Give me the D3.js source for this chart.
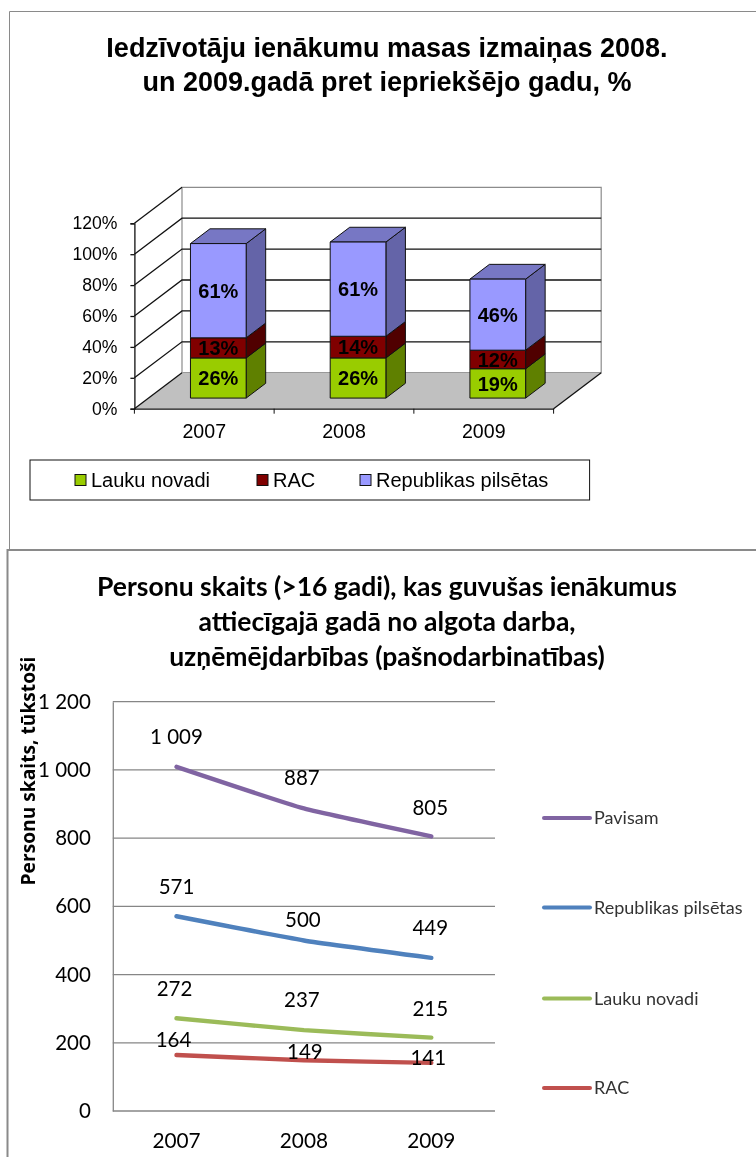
<!DOCTYPE html>
<html><head><meta charset="utf-8">
<script src="https://cdn.jsdelivr.net/npm/d3@7/dist/d3.min.js"></script>
<style>html,body{margin:0;padding:0;background:#fff}svg{display:block;filter:blur(0.35px)}</style>
</head><body>
<svg id="c" width="756" height="1157"></svg>
<script>
const years = ["2007", "2008", "2009"];
const laukuShare = [26, 26, 19];
const racShare = [13, 14, 12];
const pilsetasShare = [61, 61, 46];
const shareTicks = [0, 20, 40, 60, 80, 100, 120];
const shareSeries = ["Lauku novadi", "RAC", "Republikas pilsētas"];

const personsTotal = [1009, 887, 805];
const personsCities = [571, 500, 449];
const personsRural = [272, 237, 215];
const personsRac = [164, 149, 141];
const personTicks = [0, 200, 400, 600, 800, 1000, 1200];
const personSeries = ["Pavisam", "Republikas pilsētas", "Lauku novadi", "RAC"];

const svg = d3.select("#c");
const ARIAL = "'Liberation Sans', Arial, sans-serif";
const CAL = "Lato, Carlito, sans-serif";

// panels
svg.append("path").attr("d", "M9.5,550V11.5H756").attr("fill", "none").attr("stroke", "#8a8a8a").attr("stroke-width", 1);
svg.append("path").attr("d", "M7.5,1157V550H756").attr("fill", "#fff").attr("stroke", "#8a8a8a").attr("stroke-width", 2);

/* ---------- top chart ---------- */
const t = svg.append("g");
const title1 = ["Iedzīvotāju ienākumu masas izmaiņas 2008.", "un 2009.gadā pret iepriekšējo gadu, %"];
t.selectAll("text.title").data(title1).join("text").attr("class", "title")
  .attr("x", 387).attr("y", (d, i) => 57 + i * 34)
  .attr("text-anchor", "middle").attr("font-family", ARIAL).attr("font-weight", "bold")
  .attr("font-size", 27).attr("fill", "#000").text(d => d);

const DX = 47.6, DY = -36;          // depth of the 3D box
const BAR_GAP = 0.295, BAR_DEPTH = 0.41;
const y1 = d3.scaleLinear().domain([0, 120]).range([408.7, 223.3]);
const x1 = d3.scaleBand().domain(years).range([134.4, 553.6]);
const [xl, xr] = x1.range();
const pts = a => a.map(p => p.join(",")).join(" ");

// back wall, gridlines, side wall, floor
t.append("polygon").attr("points", pts([[xl + DX, y1(120) + DY], [xr + DX, y1(120) + DY], [xr + DX, y1(0) + DY], [xl + DX, y1(0) + DY]]))
  .attr("fill", "#fff").attr("stroke", "#8c8c8c").attr("stroke-width", 1.2);
t.append("polygon").attr("points", pts([[xl, y1(0)], [xr, y1(0)], [xr + DX, y1(0) + DY], [xl + DX, y1(0) + DY]]))
  .attr("fill", "#c0c0c0");
t.selectAll("path.grid").data(shareTicks).join("path").attr("class", "grid")
  .attr("d", d => d === 0
     ? `M${xl},${y1(d)}L${xl + DX},${y1(d) + DY}`
     : `M${xl},${y1(d)}L${xl + DX},${y1(d) + DY}` + (d < 120 ? `H${xr + DX}` : ""))
  .attr("fill", "none").attr("stroke", "#111").attr("stroke-width", 1.3);
t.append("path").attr("d", `M${xr},${y1(0)}L${xr + DX},${y1(0) + DY}`).attr("stroke", "#111").attr("fill", "none").attr("stroke-width", 1.3);

// axes
const ax1 = t.append("g").attr("transform", `translate(${xl},0)`)
  .call(d3.axisLeft(y1).tickValues(shareTicks).tickFormat(d => d + "%").tickSize(4).tickPadding(13));
const bx1 = t.append("g").attr("transform", `translate(0,${y1(0)})`)
  .call(d3.axisBottom(x1).tickSize(0).tickPadding(15));
ax1.selectAll("text").attr("font-family", ARIAL).attr("font-size", 17.6).attr("fill", "#000");
bx1.selectAll("text").attr("font-family", ARIAL).attr("font-size", 19.6).attr("fill", "#000");
[ax1, bx1].forEach(g => g.selectAll("path,line").attr("stroke", "#111").attr("stroke-width", 1.3));
t.selectAll("line.xt").data(d3.range(years.length + 1)).join("line").attr("class", "xt")
  .attr("x1", i => xl + i * x1.step()).attr("x2", i => xl + i * x1.step())
  .attr("y1", y1(0)).attr("y2", y1(0) + 5).attr("stroke", "#111");

// stacked 3D bars
const rows = years.map((y, i) => ({ year: y, a: laukuShare[i], b: racShare[i], c: pilsetasShare[i] }));
const stack = d3.stack().keys(["a", "b", "c"])(rows);
const fronts = ["#99cc00", "#800000", "#9999ff"];
const sides = ["#5f8000", "#500000", "#6464a8"];
const tops = ["#769e00", "#660000", "#7777c4"];
const barW = 55.7;
const px = d3.scaleBand().domain(years).range([xl + DX * BAR_GAP, xr + DX * BAR_GAP]);
const oy = DY * BAR_GAP, sx = DX * BAR_DEPTH, sy = DY * BAR_DEPTH;
stack.forEach((s, si) => {
  const g = t.append("g");
  s.forEach((d, i) => {
    const x0 = px(years[i]) + (px.step() - barW) / 2, x2 = x0 + barW;
    const yb = y1(d[0]) + oy, yt = y1(d[1]) + oy;
    const common = e => e.attr("stroke", "#111").attr("stroke-width", 1).attr("stroke-linejoin", "round");
    g.append("polygon").attr("points", pts([[x2, yb], [x2 + sx, yb + sy], [x2 + sx, yt + sy], [x2, yt]])).attr("fill", sides[si]).call(common);
    if (si === stack.length - 1)
      g.append("polygon").attr("points", pts([[x0, yt], [x2, yt], [x2 + sx, yt + sy], [x0 + sx, yt + sy]])).attr("fill", tops[si]).call(common);
    g.append("rect").attr("x", x0).attr("y", yt).attr("width", barW).attr("height", yb - yt).attr("fill", fronts[si]).call(common);
    g.append("text").attr("x", (x0 + x2) / 2).attr("y", (yb + yt) / 2).attr("dy", "0.36em")
      .attr("text-anchor", "middle").attr("font-family", ARIAL).attr("font-weight", "bold")
      .attr("font-size", 20).attr("fill", "#000").text((d[1] - d[0]) + "%");
  });
});

// legend
t.append("rect").attr("x", 30).attr("y", 460).attr("width", 559.6).attr("height", 40).attr("fill", "#fff").attr("stroke", "#111");
const legX = [75, 257, 360];
shareSeries.forEach((name, i) => {
  t.append("rect").attr("x", legX[i]).attr("y", 474.5).attr("width", 11).attr("height", 11).attr("fill", fronts[i]).attr("stroke", "#111");
  t.append("text").attr("x", legX[i] + 16).attr("y", 480).attr("dy", "0.36em")
    .attr("font-family", ARIAL).attr("font-size", 20).attr("fill", "#000").text(name);
});

/* ---------- bottom chart ---------- */
const b = svg.append("g");
const title2 = ["Personu skaits (>16 gadi), kas guvušas ienākumus", "attiecīgajā gadā no algota darba,", "uzņēmējdarbības (pašnodarbinatības)"];
b.selectAll("text.title").data(title2).join("text").attr("class", "title")
  .attr("x", 387).attr("y", (d, i) => 596 + i * 35)
  .attr("text-anchor", "middle").attr("font-family", CAL).attr("font-weight", "bold")
  .attr("font-size", 26.5).attr("fill", "#000").text(d => d);

const y2 = d3.scaleLinear().domain([0, 1200]).range([1111, 701.7]);
const x2s = d3.scaleBand().domain(years).range([112.8, 495]);
const fmt = d3.formatLocale({ decimal: ",", thousands: " ", grouping: [3], currency: ["", ""] }).format(",d");

const ax2 = b.append("g").attr("transform", "translate(112.8,0)")
  .call(d3.axisLeft(y2).tickValues(personTicks).tickFormat(fmt).tickSize(0).tickPadding(22));
ax2.select(".domain").attr("stroke", "#868686").attr("stroke-width", 1.3);
ax2.selectAll("text").attr("font-family", CAL).attr("font-size", 20.5).attr("fill", "#000");
b.selectAll("line.grid").data(personTicks).join("line").attr("class", "grid")
  .attr("x1", 112.8).attr("x2", 495).attr("y1", d => y2(d)).attr("y2", d => y2(d))
  .attr("stroke", "#868686").attr("stroke-width", 1.3);
const bx2 = b.append("g").attr("transform", `translate(0,${y2(0)})`)
  .call(d3.axisBottom(x2s).tickSize(0).tickPadding(22));
bx2.select(".domain").remove();
bx2.selectAll("text").attr("font-family", CAL).attr("font-size", 20.8).attr("fill", "#000");

b.append("text").attr("transform", "translate(35,771) rotate(-90)").attr("text-anchor", "middle")
  .attr("font-family", "'Open Sans', sans-serif").attr("font-weight", "bold").attr("font-size", 19.2).attr("fill", "#000")
  .text("Personu skaits, tūkstoši");

const seriesValues = [personsTotal, personsCities, personsRural, personsRac];
const seriesColors = ["#8064a2", "#4f81bd", "#9bbb59", "#c0504d"];
// label offset from its point, per series and year
const labelShift = [[[0, -30], [-2, -31], [-1, -29]], [[0, -30], [-1, -21], [-1, -30]], [[-2, -30], [-2, -31], [-1, -29]], [[-3, -15], [1, -9], [-3, -5]]];
const line = d3.line().x((d, i) => x2s(years[i]) + x2s.bandwidth() / 2).y(d => y2(d)).curve(d3.curveCardinal.tension(0.6));
const legY = [818, 907.6, 998.5, 1088];
seriesValues.forEach((vals, s) => {
  b.append("path").attr("d", line(vals)).attr("fill", "none").attr("stroke", seriesColors[s])
    .attr("stroke-width", 4.4).attr("stroke-linecap", "round");
  b.selectAll(null).data(vals).join("text")
    .attr("x", (d, i) => x2s(years[i]) + x2s.bandwidth() / 2 + labelShift[s][i][0])
    .attr("y", (d, i) => y2(d) + labelShift[s][i][1])
    .attr("dy", "0.36em").attr("text-anchor", "middle").attr("font-family", CAL)
    .attr("font-size", 20.5).attr("fill", "#000").text(d => fmt(d));
  b.append("line").attr("x1", 544).attr("x2", 590).attr("y1", legY[s]).attr("y2", legY[s])
    .attr("stroke", seriesColors[s]).attr("stroke-width", 4).attr("stroke-linecap", "round");
  b.append("text").attr("x", 594).attr("y", legY[s]).attr("dy", "0.36em").attr("font-family", CAL)
    .attr("font-size", 18).attr("fill", "#333").text(personSeries[s]);
});
</script>
</body></html>
